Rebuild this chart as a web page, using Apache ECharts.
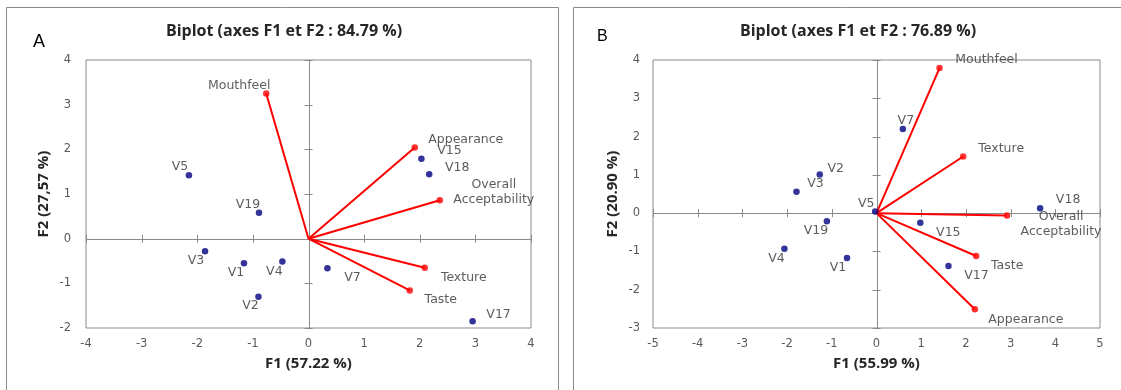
<!DOCTYPE html>
<html><head><meta charset="utf-8">
<script src="https://cdn.jsdelivr.net/npm/echarts@6/dist/echarts.min.js"></script>
<style>html,body{margin:0;padding:0;background:#fff}#c{width:1121px;height:390px}</style>
</head><body><div id="c"></div>
<script>
// ---------- Panel A data ----------
const obsNamesA = ['V1','V2','V3','V4','V5','V7','V15','V17','V18','V19'];
const obsF1A = [-1.16,-0.90,-1.86,-0.47,-2.15,0.34,2.03,2.95,2.17,-0.89];
const obsF2A = [-0.55,-1.30,-0.28,-0.51,1.42,-0.66,1.79,-1.85,1.44,0.58];
const varNamesA = ['Appearance','Mouthfeel','Texture','Taste','Overall\nAcceptability'];
const varF1A = [1.91,-0.76,2.09,1.82,2.36];
const varF2A = [2.04,3.25,-0.65,-1.16,0.86];
const xTicksA = [-4,-3,-2,-1,0,1,2,3,4];
const yTicksA = [-2,-1,0,1,2,3,4];
const titleA = 'Biplot (axes F1 et F2 : 84.79 %)';
const xNameA = 'F1 (57.22 %)';
const yNameA = 'F2 (27,57 %)';

// ---------- Panel B data ----------
const obsNamesB = ['V1','V2','V3','V4','V5','V7','V15','V17','V18','V19'];
const obsF1B = [-0.66,-1.27,-1.79,-2.06,-0.03,0.59,0.98,1.61,3.66,-1.11];
const obsF2B = [-1.17,1.01,0.56,-0.93,0.04,2.20,-0.25,-1.38,0.13,-0.21];
const varNamesB = ['Appearance','Mouthfeel','Texture','Taste','Overall\nAcceptability'];
const varF1B = [2.20,1.41,1.94,2.23,2.92];
const varF2B = [-2.51,3.79,1.48,-1.12,-0.06];
const xTicksB = [-5,-4,-3,-2,-1,0,1,2,3,4,5];
const yTicksB = [-3,-2,-1,0,1,2,3,4];
const titleB = 'Biplot (axes F1 et F2 : 76.89 %)';
const xNameB = 'F1 (55.99 %)';
const yNameB = 'F2 (20.90 %)';

// ---------- label placement (style) ----------
const labelOffsetA = {
  V1:[-8,10], V2:[-8,9], V3:[-9,10], V4:[-8,10], V5:[-9,-8], V7:[25,10],
  V15:[28,-8], V17:[26,-7], V18:[28,-7], V19:[-11,-8],
  'Appearance':[51,-8], 'Mouthfeel':[-27,-8], 'Texture':[39,10], 'Taste':[31,9],
  'Overall\nAcceptability':[54,-8]
};
const labelOffsetB = {
  V1:[-9,10], V2:[16,-6], V3:[19,-8], V4:[-8,10], V5:[-9,-8], V7:[3,-8],
  V15:[28,10], V17:[28,10], V18:[28,-8], V19:[-11,10],
  'Appearance':[51,11], 'Mouthfeel':[47,-8], 'Texture':[38,-8], 'Taste':[31,10],
  'Overall\nAcceptability':[54,9]
};

const GRAY = '#8a8a8a';
const TXT = '#333333';
const LBL_FONT = {fontFamily:'DejaVu Sans', fontSize:12.5, color:TXT, lineHeight:15};
const HEAD_FONT = {fontFamily:'Open Sans', fontWeight:'bold', color:'#262626'};

function pts(names, xs, ys, offs){
  return names.map((n,i)=>({name:n, value:[xs[i], ys[i]],
    label:{offset:offs[n]}}));
}

function axesSeries(gi, xt, yt){
  return {
    type:'custom', xAxisIndex:gi, yAxisIndex:gi, silent:true, z:1,
    data:[[0,0]],
    renderItem:(params, api)=>{
      const st = {stroke:GRAY, lineWidth:1};
      const r = v => Math.round(v)+0.5;
      const ch = [];
      const a = api.coord([xt[0],0]), b = api.coord([xt[xt.length-1],0]);
      const c = api.coord([0,yt[0]]), d = api.coord([0,yt[yt.length-1]]);
      ch.push({type:'line', shape:{x1:a[0],y1:r(a[1]),x2:b[0],y2:r(b[1])}, style:st});
      ch.push({type:'line', shape:{x1:r(c[0]),y1:c[1],x2:r(d[0]),y2:d[1]}, style:st});
      xt.forEach(v=>{ if(v===0) return; const p=api.coord([v,0]);
        ch.push({type:'line', shape:{x1:r(p[0]),y1:p[1]-4,x2:r(p[0]),y2:p[1]+4}, style:st}); });
      yt.forEach(v=>{ if(v===0) return; const p=api.coord([0,v]);
        ch.push({type:'line', shape:{x1:p[0]-4,y1:r(p[1]),x2:p[0]+4,y2:r(p[1])}, style:st}); });
      return {type:'group', children:ch};
    }
  };
}

function vectorSeries(gi, xs, ys){
  return {
    type:'custom', xAxisIndex:gi, yAxisIndex:gi, silent:true, z:2,
    data: xs.map((x,i)=>[x, ys[i]]),
    renderItem:(params, api)=>{
      const o = api.coord([0,0]);
      const p = api.coord([api.value(0), api.value(1)]);
      return {type:'line', shape:{x1:o[0],y1:o[1],x2:p[0],y2:p[1]},
        style:{stroke:'#ff0000', lineWidth:2}};
    }
  };
}

function scatterSeries(gi, data, color){
  return {
    type:'scatter', xAxisIndex:gi, yAxisIndex:gi, z:3, silent:true,
    symbol:'circle', symbolSize:6.5,
    itemStyle:{color:color},
    label:{show:true, position:'inside', formatter:'{b}', align:'center',
      verticalAlign:'middle', ...LBL_FONT},
    data:data
  };
}

function xAxisCfg(gi, ticks, name){
  return {
    type:'value', gridIndex:gi, min:ticks[0], max:ticks[ticks.length-1], interval:1,
    splitLine:{show:false}, axisLine:{show:false, onZero:false}, axisTick:{show:false},
    axisLabel:{margin:10, fontFamily:'DejaVu Sans', fontSize:11.5, color:'#595959'},
    name:name, nameLocation:'middle', nameGap:28,
    nameTextStyle:{...HEAD_FONT, fontSize:15}
  };
}
function yAxisCfg(gi, ticks, name, gap, margin){
  return {
    type:'value', gridIndex:gi, min:ticks[0], max:ticks[ticks.length-1], interval:1,
    splitLine:{show:false}, axisLine:{show:false, onZero:false}, axisTick:{show:false},
    axisLabel:{margin:margin, fontFamily:'DejaVu Sans', fontSize:11.5, color:'#595959'},
    name:name, nameLocation:'middle', nameGap:gap, nameRotate:90,
    nameTextStyle:{...HEAD_FONT, fontSize:15}
  };
}

const chart = echarts.init(document.getElementById('c'), null, {renderer:'canvas'});
chart.setOption({
  animation:false,
  backgroundColor:'#ffffff',
  graphic:[
    {type:'rect', shape:{x:6.5, y:7.5, width:552, height:420}, style:{fill:'none', stroke:GRAY, lineWidth:1}, z:-1},
    {type:'rect', shape:{x:573.5, y:7.5, width:560, height:420}, style:{fill:'none', stroke:GRAY, lineWidth:1}, z:-1}
  ],
  title:[
    {text:titleA, left:279, top:18, textAlign:'center', textStyle:{...HEAD_FONT, fontSize:16}},
    {text:titleB, left:853, top:18, textAlign:'center', textStyle:{...HEAD_FONT, fontSize:16}},
    {text:'A', left:28, top:28, textStyle:{fontFamily:'Liberation Sans', fontWeight:'normal', fontSize:18, color:'#000'}},
    {text:'B', left:592, top:24, textStyle:{fontFamily:'Liberation Sans', fontWeight:'normal', fontSize:16, color:'#000'}}
  ],
  grid:[
    {left:86, top:60, width:445, height:268, show:true, borderColor:GRAY, borderWidth:1, backgroundColor:'transparent'},
    {left:653, top:60, width:447, height:268, show:true, borderColor:GRAY, borderWidth:1, backgroundColor:'transparent'}
  ],
  xAxis:[xAxisCfg(0, xTicksA, xNameA), xAxisCfg(1, xTicksB, xNameB)],
  yAxis:[yAxisCfg(0, yTicksA, yNameA, 35, 15), yAxisCfg(1, yTicksB, yNameB, 33, 13)],
  series:[
    axesSeries(0, xTicksA, yTicksA),
    axesSeries(1, xTicksB, yTicksB),
    vectorSeries(0, varF1A, varF2A),
    vectorSeries(1, varF1B, varF2B),
    scatterSeries(0, pts(varNamesA, varF1A, varF2A, labelOffsetA), '#ff0000'),
    scatterSeries(0, pts(obsNamesA, obsF1A, obsF2A, labelOffsetA), '#000080'),
    scatterSeries(1, pts(varNamesB, varF1B, varF2B, labelOffsetB), '#ff0000'),
    scatterSeries(1, pts(obsNamesB, obsF1B, obsF2B, labelOffsetB), '#000080')
  ]
});
</script>
</body></html>
